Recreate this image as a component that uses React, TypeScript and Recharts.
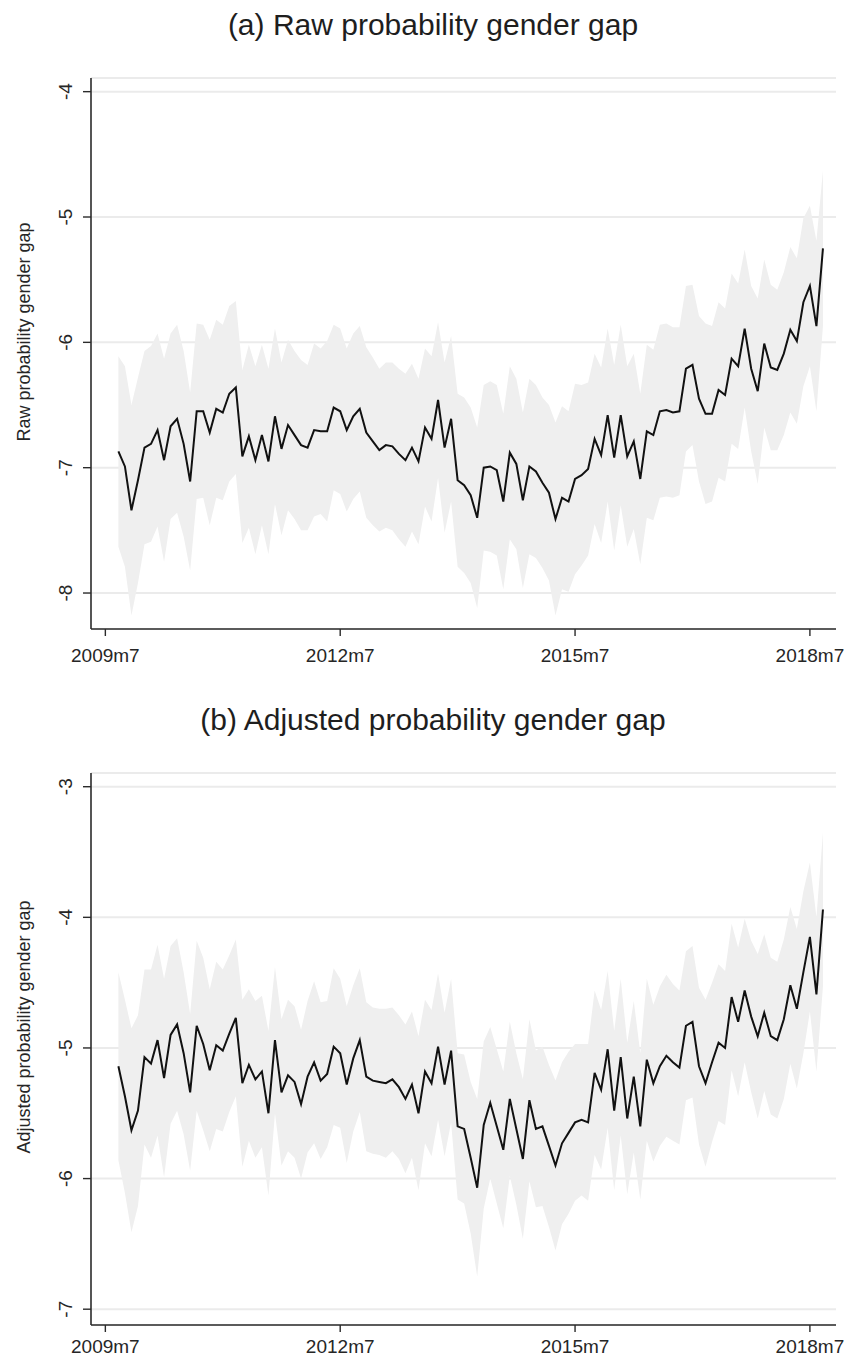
import { ComposedChart, Area, Line, XAxis, YAxis, CartesianGrid } from 'recharts'

const FONT = '"Liberation Sans", Arial, Helvetica, sans-serif'

// monthly series, first point is 2009m9, last is 2018m9
const rawGap = [
  -6.87, -6.99, -7.34, -7.10, -6.84, -6.81, -6.70, -6.94, -6.67, -6.61,
  -6.81, -7.11, -6.55, -6.55, -6.72, -6.53, -6.56, -6.41, -6.36, -6.91,
  -6.75, -6.94, -6.74, -6.95, -6.59, -6.85, -6.66, -6.74, -6.82, -6.84,
  -6.70, -6.71, -6.71, -6.52, -6.55, -6.70, -6.59, -6.53, -6.72, -6.79,
  -6.86, -6.82, -6.83, -6.89, -6.94, -6.84, -6.95, -6.68, -6.77, -6.46,
  -6.84, -6.61, -7.10, -7.14, -7.22, -7.40, -7.00, -6.99, -7.02, -7.27,
  -6.88, -6.97, -7.26, -6.99, -7.03, -7.12, -7.20, -7.41, -7.24, -7.27,
  -7.09, -7.06, -7.01, -6.77, -6.90, -6.58, -6.92, -6.58, -6.91, -6.79,
  -7.09, -6.71, -6.74, -6.55, -6.54, -6.56, -6.55, -6.21, -6.18, -6.45,
  -6.57, -6.57, -6.38, -6.42, -6.13, -6.19, -5.89, -6.21, -6.39, -6.01,
  -6.20, -6.22, -6.09, -5.90, -5.99, -5.68, -5.55, -5.87, -5.25,
]

// half width of the 95% band around rawGap
const rawHalf = [
  0.76, 0.80, 0.84, 0.82, 0.77, 0.78, 0.77, 0.81, 0.74, 0.75,
  0.74, 0.71, 0.70, 0.69, 0.74, 0.71, 0.70, 0.70, 0.69, 0.69,
  0.73, 0.75, 0.72, 0.74, 0.70, 0.69, 0.68, 0.67, 0.68, 0.66,
  0.69, 0.66, 0.72, 0.66, 0.66, 0.65, 0.66, 0.66, 0.68, 0.67,
  0.65, 0.66, 0.67, 0.68, 0.69, 0.67, 0.66, 0.63, 0.66, 0.62,
  0.68, 0.66, 0.69, 0.70, 0.70, 0.72, 0.66, 0.68, 0.68, 0.70,
  0.69, 0.68, 0.70, 0.70, 0.69, 0.68, 0.70, 0.77, 0.73, 0.72,
  0.76, 0.72, 0.69, 0.68, 0.70, 0.69, 0.74, 0.72, 0.72, 0.70,
  0.68, 0.69, 0.68, 0.69, 0.69, 0.68, 0.67, 0.66, 0.64, 0.66,
  0.72, 0.70, 0.70, 0.69, 0.68, 0.66, 0.63, 0.66, 0.74, 0.67,
  0.66, 0.64, 0.65, 0.66, 0.66, 0.67, 0.64, 0.68, 0.62,
]

const adjGap = [
  -5.14, -5.37, -5.63, -5.48, -5.07, -5.12, -4.94, -5.23, -4.90, -4.82,
  -5.04, -5.34, -4.83, -4.97, -5.17, -4.98, -5.02, -4.89, -4.77, -5.27,
  -5.13, -5.24, -5.18, -5.50, -4.94, -5.34, -5.21, -5.26, -5.43, -5.22,
  -5.11, -5.25, -5.20, -4.99, -5.04, -5.28, -5.08, -4.94, -5.22, -5.25,
  -5.26, -5.27, -5.24, -5.30, -5.39, -5.28, -5.50, -5.18, -5.27, -4.99,
  -5.28, -5.02, -5.60, -5.62, -5.84, -6.07, -5.59, -5.42, -5.60, -5.78,
  -5.39, -5.62, -5.85, -5.40, -5.62, -5.60, -5.75, -5.90, -5.73, -5.65,
  -5.57, -5.55, -5.57, -5.19, -5.32, -5.01, -5.48, -5.07, -5.54, -5.22,
  -5.60, -5.09, -5.27, -5.14, -5.06, -5.11, -5.15, -4.83, -4.80, -5.14,
  -5.27, -5.11, -4.96, -5.00, -4.61, -4.80, -4.56, -4.76, -4.91, -4.73,
  -4.91, -4.94, -4.78, -4.52, -4.70, -4.42, -4.15, -4.59, -3.94,
]

const adjHalf = [
  0.72, 0.74, 0.78, 0.73, 0.67, 0.72, 0.73, 0.76, 0.68, 0.66,
  0.62, 0.60, 0.65, 0.66, 0.62, 0.64, 0.62, 0.60, 0.60, 0.64,
  0.58, 0.60, 0.58, 0.63, 0.56, 0.56, 0.58, 0.58, 0.57, 0.58,
  0.62, 0.60, 0.56, 0.60, 0.57, 0.60, 0.56, 0.55, 0.57, 0.56,
  0.56, 0.57, 0.55, 0.55, 0.57, 0.56, 0.59, 0.55, 0.56, 0.56,
  0.55, 0.55, 0.56, 0.57, 0.58, 0.68, 0.64, 0.58, 0.59, 0.60,
  0.59, 0.58, 0.61, 0.62, 0.60, 0.61, 0.62, 0.65, 0.62, 0.62,
  0.60, 0.58, 0.60, 0.63, 0.61, 0.60, 0.61, 0.60, 0.58, 0.58,
  0.56, 0.62, 0.60, 0.61, 0.62, 0.60, 0.59, 0.57, 0.58, 0.60,
  0.64, 0.61, 0.60, 0.59, 0.56, 0.57, 0.55, 0.58, 0.63, 0.60,
  0.60, 0.60, 0.61, 0.60, 0.61, 0.62, 0.57, 0.59, 0.59,
]

// x ticks, in months counted from 2009m9
const xTickMonths = [-2, 34, 70, 106]
const xTickLabels = ['2009m7', '2012m7', '2015m7', '2018m7']

const rawTicks = [-8, -7, -6, -5, -4]
const adjTicks = [-7, -6, -5, -4, -3]

function buildRows(est: number[], half: number[]) {
  return est.map((v, i) => ({
    t: i,
    est: v,
    band: [v - half[i], v + half[i]],
  }))
}

const YTick = (props: any) => {
  const { x, y, payload } = props
  return (
    <text
      x={0}
      y={0}
      transform={`translate(${x - 9},${y}) rotate(-90)`}
      textAnchor="middle"
      fontSize={19}
      fontFamily={FONT}
      fill="#262626"
    >
      {payload.value}
    </text>
  )
}

interface PanelProps {
  title: string
  yTitle: string
  rows: Array<{ t: number; est: number; band: number[] }>
  domain: [number, number]
  ticks: number[]
  height: number
  axisHeight: number
  labelGap: number
}

function Panel({ title, yTitle, rows, domain, ticks, height, axisHeight, labelGap }: PanelProps) {
  return (
    <div style={{ position: 'relative', width: 845, height }}>
      <div
        style={{
          position: 'absolute',
          left: 0,
          width: 866,
          top: 10,
          textAlign: 'center',
          fontFamily: FONT,
          fontSize: 30,
          lineHeight: '30px',
          color: '#1e1e1e',
          whiteSpace: 'nowrap',
        }}
      >
        {title}
      </div>
      <div
        style={{
          position: 'absolute',
          left: 24,
          top: 332,
          transform: 'translate(-50%, -50%) rotate(-90deg)',
          fontFamily: FONT,
          fontSize: 18,
          lineHeight: '18px',
          color: '#262626',
          whiteSpace: 'nowrap',
        }}
      >
        {yTitle}
      </div>
      <div style={{ position: 'absolute', left: 0, top: 0 }}>
        <ComposedChart
          width={845}
          height={height}
          data={rows}
          margin={{ top: 78, right: 9, bottom: 0, left: 0 }}
        >
          <CartesianGrid vertical={false} stroke="#ebebeb" strokeWidth={2} />
          <XAxis
            dataKey="t"
            type="number"
            domain={[-4.2, 110]}
            ticks={xTickMonths}
            interval={0}
            tickFormatter={(v: number) => xTickLabels[xTickMonths.indexOf(v)]}
            height={axisHeight}
            tickSize={7}
            tickMargin={labelGap}
            axisLine={{ stroke: '#2b2b2b', strokeWidth: 1.6 }}
            tickLine={{ stroke: '#2b2b2b', strokeWidth: 1.4 }}
            tick={{ fontSize: 19, fill: '#262626', fontFamily: FONT }}
          />
          <YAxis
            type="number"
            domain={domain}
            ticks={ticks}
            interval={0}
            allowDataOverflow
            width={91}
            tickSize={8}
            axisLine={{ stroke: '#2b2b2b', strokeWidth: 1.6 }}
            tickLine={{ stroke: '#2b2b2b', strokeWidth: 1.4 }}
            tick={<YTick />}
          />
          <Area
            dataKey="band"
            type="linear"
            stroke="none"
            fill="#efefef"
            fillOpacity={1}
            isAnimationActive={false}
          />
          <Line
            dataKey="est"
            type="linear"
            stroke="#111111"
            strokeWidth={2}
            dot={false}
            activeDot={false}
            isAnimationActive={false}
          />
        </ComposedChart>
      </div>
    </div>
  )
}

export default function App() {
  return (
    <div
      style={{
        position: 'absolute',
        left: 0,
        top: 0,
        width: 845,
        height: 1360,
        background: '#ffffff',
      }}
    >
      <Panel
        title="(a) Raw probability gender gap"
        yTitle="Raw probability gender gap"
        rows={buildRows(rawGap, rawHalf)}
        domain={[-8.287, -3.891]}
        ticks={rawTicks}
        height={695}
        axisHeight={66}
        labelGap={13}
      />
      <Panel
        title="(b) Adjusted probability gender gap"
        yTitle="Adjusted probability gender gap"
        rows={buildRows(adjGap, adjHalf)}
        domain={[-7.121, -2.895]}
        ticks={adjTicks}
        height={665}
        axisHeight={35}
        labelGap={8}
      />
    </div>
  )
}
